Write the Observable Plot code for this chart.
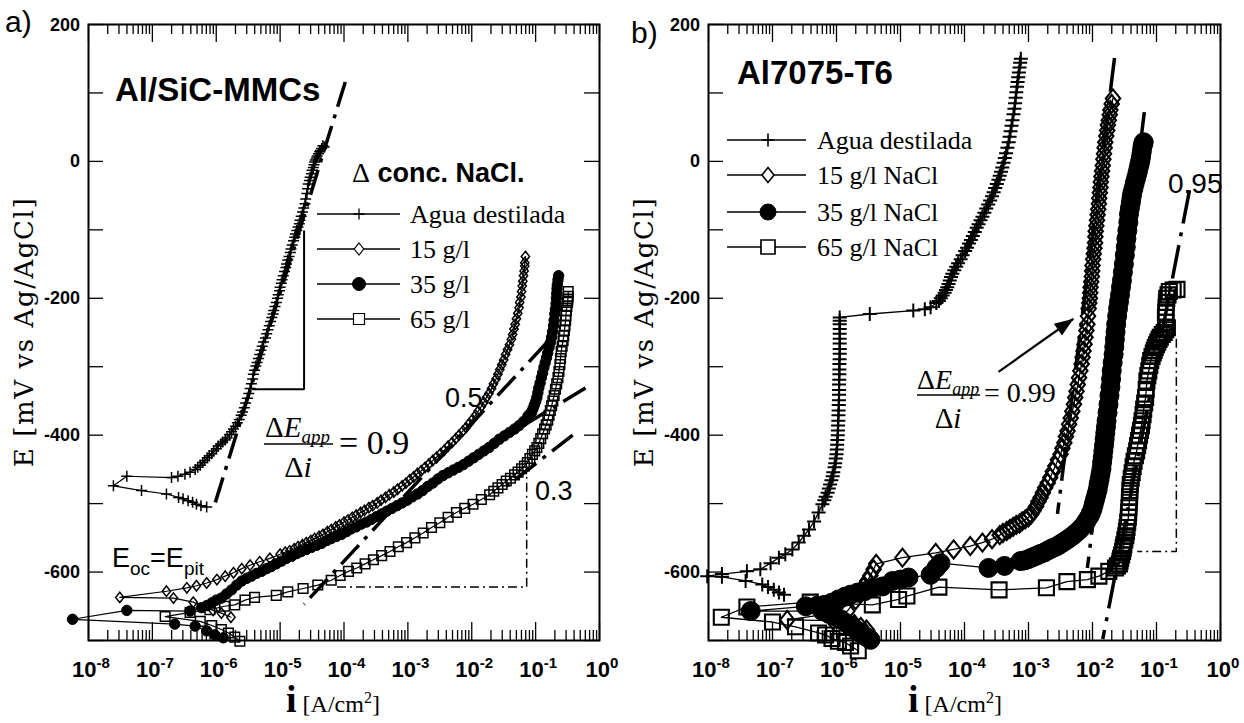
<!DOCTYPE html>
<html>
<head>
<meta charset="utf-8">
<script src="https://cdn.jsdelivr.net/npm/d3@7"></script>
<script src="https://cdn.jsdelivr.net/npm/@observablehq/plot@0.6"></script>
<style>
html,body{margin:0;padding:0;background:#fff;}
body{width:1244px;height:723px;overflow:hidden;position:relative;}
.panel{position:absolute;top:0;width:622px;height:723px;overflow:hidden;}
#pa{left:0}
#pb{left:622px}
</style>
</head>
<body>
<div id="pa" class="panel"></div>
<div id="pb" class="panel"></div>
<script>
// ---------- axis values ----------
const xExponents = [-8, -7, -6, -5, -4, -3, -2, -1, 0];
const yTicks = [200, 100, 0, -100, -200, -300, -400, -500, -600, -700];
const yLabels = [200, 0, -200, -400, -600];

// ---------- panel a) Al/SiC-MMCs : [log10 i (A/cm2), E (mV vs Ag/AgCl)] ----------
const aAgua = [[-6.15,-505],[-6.24,-503],[-6.31,-501],[-6.37,-498],[-6.44,-496],[-6.52,-493],[-6.59,-491],[-6.78,-486],[-7.17,-481],[-7.61,-474],
[-7.40,-460],[-6.70,-462],[-6.60,-460],[-6.49,-457],[-6.41,-454],[-6.33,-450],
[-6.29,-447],[-6.25,-444],[-6.21,-440],[-6.18,-437],[-6.14,-433],[-6.11,-430],[-6.07,-427],[-6.04,-423],[-6.00,-420],[-5.97,-416],[-5.93,-413],[-5.90,-410],[-5.86,-407],[-5.83,-404],[-5.79,-399],[-5.76,-395],[-5.73,-391],[-5.70,-387],[-5.67,-382],[-5.64,-377],[-5.61,-371],[-5.59,-366],[-5.56,-360],[-5.54,-353],[-5.51,-346],[-5.49,-339],[-5.47,-332],[-5.45,-325],[-5.43,-318],[-5.42,-311],[-5.40,-305],[-5.38,-299],[-5.36,-294],[-5.34,-288],[-5.32,-282],[-5.30,-276],[-5.28,-270],[-5.26,-264],[-5.23,-258],[-5.21,-252],[-5.19,-246],[-5.17,-240],[-5.15,-234],[-5.13,-228],[-5.11,-223],[-5.10,-218],[-5.08,-212],[-5.06,-206],[-5.04,-200],[-5.03,-195],[-5.01,-189],[-5.00,-184],[-4.98,-178],[-4.97,-173],[-4.95,-167],[-4.93,-161],[-4.91,-155],[-4.90,-150],[-4.88,-144],[-4.86,-139],[-4.84,-133],[-4.83,-128],[-4.81,-122],[-4.79,-116],[-4.77,-111],[-4.76,-106],[-4.74,-101],[-4.72,-96],[-4.70,-91],[-4.69,-86],[-4.67,-80],[-4.65,-74],[-4.63,-68],[-4.61,-62],[-4.60,-55],[-4.58,-47],[-4.57,-40],[-4.56,-33],[-4.54,-28],[-4.53,-23],[-4.51,-18],[-4.50,-13],[-4.48,-9],[-4.47,-5],[-4.46,-1],[-4.45,2],[-4.43,5],[-4.42,8],[-4.40,11],[-4.38,14],[-4.37,16],[-4.35,19],[-4.33,23],[-4.31,21]];
const a15 = [[-5.77,-666],[-5.92,-660],[-6.05,-656],[-6.36,-644],[-6.67,-638],[-7.51,-637],
[-6.78,-628],[-6.46,-623],[-6.31,-620],[-6.15,-616],[-5.99,-611],[-5.86,-606],[-5.73,-601],[-5.60,-595],[-5.47,-590],[-5.32,-585],[-5.16,-580],[-5.00,-574],
[-4.92,-571],[-4.85,-569],[-4.78,-566],[-4.72,-563],[-4.65,-560],[-4.59,-557],[-4.52,-554],[-4.46,-551],[-4.39,-548],[-4.33,-545],[-4.26,-541],[-4.20,-538],[-4.13,-534],[-4.07,-531],[-4.00,-527],[-3.94,-524],[-3.87,-520],[-3.81,-517],[-3.74,-513],[-3.68,-510],[-3.61,-506],[-3.55,-503],[-3.48,-499],[-3.42,-495],[-3.35,-491],[-3.29,-487],[-3.22,-483],[-3.16,-479],[-3.09,-474],[-3.03,-470],[-2.97,-465],[-2.91,-461],[-2.85,-456],[-2.79,-452],[-2.73,-447],[-2.67,-442],[-2.61,-437],[-2.55,-432],[-2.49,-427],[-2.43,-422],[-2.37,-416],[-2.31,-411],[-2.25,-405],[-2.20,-400],[-2.14,-394],[-2.09,-389],[-2.04,-383],[-1.99,-377],[-1.94,-371],[-1.90,-365],[-1.85,-358],[-1.81,-352],[-1.77,-345],[-1.73,-339],[-1.69,-332],[-1.66,-325],[-1.62,-318],[-1.59,-311],[-1.56,-304],[-1.53,-297],[-1.50,-290],[-1.47,-282],[-1.44,-275],[-1.41,-268],[-1.38,-260],[-1.36,-253],[-1.34,-245],[-1.32,-238],[-1.30,-230],[-1.28,-222],[-1.26,-214],[-1.25,-206],[-1.23,-198],[-1.22,-190],[-1.21,-182],[-1.20,-175],[-1.19,-167],[-1.18,-160],[-1.17,-153],[-1.17,-148],[-1.16,-139]];
const a35 = [[-5.89,-696],[-6.02,-692],[-6.15,-686],[-6.33,-679],[-6.65,-676],[-8.25,-669],
[-7.40,-656],[-6.41,-657],[-6.23,-652],[-6.15,-649],[-6.07,-645],[-6.00,-641],[-5.92,-638],[-5.84,-632],[-5.76,-626],[-5.68,-619],[-5.60,-613],[-5.52,-609],[-5.45,-606],[-5.37,-602],[-5.29,-599],[-5.21,-595],[-5.14,-592],[-5.06,-588],[-4.98,-584],[-4.90,-580],[-4.82,-577],[-4.74,-573],[-4.67,-570],[-4.59,-567],[-4.51,-564],[-4.43,-561],[-4.35,-558],[-4.27,-554],[-4.20,-551],[-4.12,-548],[-4.04,-545],[-3.96,-541],[-3.89,-537],[-3.81,-534],[-3.73,-530],[-3.65,-527],[-3.57,-523],[-3.49,-519],[-3.41,-515],[-3.33,-511],[-3.25,-507],[-3.17,-503],[-3.09,-499],[-3.01,-495],[-2.93,-490],[-2.85,-486],[-2.77,-481],[-2.69,-475],[-2.61,-470],[-2.53,-464],[-2.45,-459],[-2.37,-455],[-2.29,-451],[-2.21,-447],[-2.13,-443],[-2.05,-438],[-1.97,-433],[-1.89,-428],[-1.81,-423],[-1.73,-418],[-1.65,-412],[-1.57,-406],[-1.49,-401],[-1.41,-396],[-1.33,-391],[-1.26,-386],[-1.19,-380],
[-1.12,-372],[-1.09,-369],[-1.06,-366],[-1.04,-361],[-1.02,-356],[-1.00,-351],[-0.98,-345],[-0.965,-338],[-0.95,-331],[-0.93,-324],[-0.91,-316],[-0.89,-309],[-0.87,-301],[-0.85,-294],[-0.83,-287],[-0.81,-280],[-0.79,-272],[-0.77,-265],[-0.75,-257],[-0.735,-249],[-0.72,-240],[-0.71,-232],[-0.70,-223],[-0.69,-216],[-0.68,-208],[-0.675,-200],[-0.67,-193],[-0.665,-186],[-0.66,-180],[-0.65,-173],[-0.64,-167]];
const a65 = [[-5.63,-701],[-5.71,-695],[-5.81,-689],[-5.92,-684],[-6.07,-678],[-6.25,-672],[-6.80,-665],
[-6.41,-659],[-6.10,-655],[-5.87,-650],[-5.71,-648],[-5.55,-641],[-5.40,-637],[-5.06,-634],[-4.88,-629],[-4.64,-624],[-4.41,-619],[-4.20,-612],[-4.06,-605],[-3.93,-599],[-3.80,-594],[-3.67,-588],[-3.54,-582],[-3.41,-576],[-3.28,-570],[-3.15,-563],[-3.02,-557],[-2.89,-550],[-2.76,-543],[-2.63,-535],[-2.50,-528],[-2.37,-520],[-2.24,-513],[-2.11,-507],[-1.98,-501],[-1.85,-494],
[-1.72,-487],[-1.655,-482],[-1.59,-477],[-1.525,-472],[-1.46,-467],[-1.395,-463],[-1.33,-458],[-1.275,-454],[-1.22,-449],[-1.175,-445],[-1.13,-440],[-1.09,-434],[-1.05,-428],[-1.015,-423],[-0.98,-418],[-0.95,-412],[-0.92,-405],[-0.89,-398],[-0.86,-391],[-0.835,-385],[-0.81,-378],[-0.79,-371],[-0.77,-364],[-0.75,-357],[-0.73,-350],[-0.71,-342],[-0.69,-333],[-0.67,-325],[-0.65,-316],[-0.635,-307],[-0.62,-297],[-0.61,-288],[-0.60,-278],[-0.585,-270],[-0.57,-262],[-0.56,-255],[-0.55,-247],[-0.54,-240],[-0.53,-232],[-0.525,-225],[-0.52,-218],[-0.51,-212],[-0.50,-206],[-0.495,-201],[-0.49,-197],[-0.49,-190]];
// fitted / guide lines panel a
const aFit09 = [[-3.98,116],[-6.04,-506]];
const aFit05 = [[-0.828,-265],[-4.625,-647]];
const aFit35 = [[-0.22,-331],[-1.72,-416]];
const aFit03 = [[-0.42,-400],[-1.56,-482]];
const aStep = [[-4.11,-622],[-1.14,-622],[-1.14,-460]];
const aTriangle = [[-5.44,-333],[-4.625,-333],[-4.625,-101]];

// ---------- panel b) Al7075-T6 ----------
const bAgua = [[-6.82,-633],[-6.90,-630],[-6.98,-626],[-7.07,-622],[-7.16,-618],[-7.42,-613],[-7.79,-607],[-8.02,-606],
[-7.79,-603],[-7.40,-599],[-7.19,-596],[-7.03,-587],[-6.90,-579],[-6.80,-574],[-6.69,-567],[-6.59,-557],[-6.51,-547],[-6.43,-538],[-6.35,-526],[-6.28,-513],
[-6.22,-501],[-6.19,-495],[-6.17,-490],[-6.14,-484],[-6.12,-478],[-6.10,-472],[-6.08,-466],[-6.06,-460],[-6.05,-454],[-6.03,-447],[-6.02,-441],[-6.01,-434],[-6.00,-428],[-5.995,-421],[-5.99,-414],[-5.985,-407],[-5.98,-400],[-5.978,-393],[-5.975,-386],[-5.972,-379],[-5.97,-371],[-5.967,-364],[-5.965,-356],[-5.962,-349],[-5.96,-341],[-5.96,-334],[-5.96,-326],[-5.957,-319],[-5.955,-311],[-5.955,-304],[-5.955,-296],[-5.952,-289],[-5.95,-281],[-5.95,-274],[-5.95,-266],[-5.95,-259],[-5.95,-252],[-5.95,-245],[-5.95,-238],[-5.95,-233],[-5.95,-228],
[-5.48,-223],[-4.80,-218],[-4.62,-216],[-4.53,-213],
[-4.44,-207],[-4.40,-204],[-4.37,-200],[-4.34,-196],[-4.31,-192],[-4.29,-188],[-4.27,-184],[-4.25,-179],[-4.23,-174],[-4.21,-169],[-4.19,-164],[-4.16,-159],[-4.13,-154],[-4.10,-149],[-4.06,-143],[-4.03,-137],[-3.99,-131],[-3.96,-126],[-3.93,-120],[-3.90,-115],[-3.87,-109],[-3.84,-103],[-3.81,-97],[-3.78,-92],[-3.75,-86],[-3.72,-81],[-3.69,-75],[-3.66,-69],[-3.63,-63],[-3.60,-57],[-3.57,-51],[-3.545,-45],[-3.52,-39],[-3.495,-33],[-3.47,-27],[-3.45,-21],[-3.43,-15],[-3.41,-9],[-3.39,-2],[-3.37,5],[-3.35,12],[-3.33,20],[-3.31,28],[-3.295,36],[-3.28,44],[-3.265,52],[-3.25,60],[-3.235,69],[-3.22,77],[-3.21,85],[-3.20,93],[-3.19,101],[-3.18,109],[-3.17,116],[-3.16,123],[-3.15,130],[-3.14,137],[-3.13,144],[-3.12,150]];
const b15 = [[-5.53,-684],[-5.62,-680],[-5.72,-676],[-5.85,-673],[-6.05,-671],[-6.77,-670],
[-5.83,-657],[-5.70,-641],[-5.64,-631],[-5.58,-622],[-5.52,-613],[-5.47,-605],[-5.42,-596],[-5.38,-588],[-4.97,-579],[-4.45,-572],[-4.17,-567],[-3.91,-562],[-3.72,-557],[-3.57,-552],
[-3.45,-546],[-3.40,-543],[-3.34,-540],[-3.29,-537],[-3.24,-534],[-3.19,-531],[-3.14,-529],[-3.10,-526],[-3.05,-523],[-3.00,-520],[-2.96,-516],[-2.92,-510],[-2.88,-504],[-2.845,-497],[-2.81,-491],[-2.775,-484],[-2.74,-477],[-2.70,-470],[-2.66,-462],[-2.62,-453],[-2.58,-445],[-2.54,-436],[-2.50,-428],[-2.47,-419],[-2.44,-411],[-2.415,-402],[-2.39,-394],[-2.365,-384],[-2.34,-375],[-2.315,-365],[-2.29,-355],[-2.27,-345],[-2.25,-336],[-2.23,-326],[-2.21,-316],[-2.19,-306],[-2.17,-296],[-2.155,-286],[-2.14,-277],[-2.125,-267],[-2.11,-257],[-2.095,-247],[-2.08,-238],[-2.07,-226],[-2.06,-215],[-2.05,-207],[-2.04,-200],[-2.035,-192],[-2.03,-184],[-2.02,-176],[-2.01,-168],[-2.005,-160],[-2.00,-152],[-1.99,-143],[-1.98,-135],[-1.97,-127],[-1.96,-119],[-1.955,-110],[-1.95,-102],[-1.94,-94],[-1.93,-86],[-1.92,-78],[-1.91,-70],[-1.90,-62],[-1.895,-54],[-1.885,-46],[-1.875,-38],[-1.87,-30],[-1.86,-22],[-1.85,-14],[-1.84,-6],[-1.83,3],[-1.82,11],[-1.81,20],[-1.80,28],[-1.785,37],[-1.77,45],[-1.76,53],[-1.745,60],[-1.73,68],[-1.72,75],[-1.70,84],[-1.68,92]];
const b35 = [[-5.47,-699],[-5.55,-694],[-5.63,-689],[-5.70,-684],[-5.78,-679],[-5.86,-674],[-5.94,-669],[-6.02,-665],[-6.12,-661],[-6.22,-657],[-7.34,-657],
[-6.48,-650],[-6.30,-649],[-6.19,-648],[-6.08,-645],[-5.97,-640],[-5.87,-636],[-5.78,-633],[-5.67,-630],[-5.56,-628],[-5.44,-623],[-5.28,-621],[-5.125,-613],[-5.0,-611],[-4.875,-608],[-4.53,-604],[-4.44,-594],[-4.375,-587],[-3.625,-594],[-3.375,-591],
[-3.125,-584],[-3.06,-583],[-3.0,-581],[-2.95,-579],[-2.9,-577],[-2.85,-575],[-2.8,-573],[-2.745,-571],[-2.69,-568],[-2.645,-566],[-2.6,-564],[-2.55,-562],[-2.5,-559],[-2.45,-556],[-2.4,-553],[-2.355,-550],[-2.31,-547],[-2.26,-543],[-2.21,-539],[-2.17,-535],[-2.125,-530],[-2.09,-525],[-2.05,-519],[-2.025,-514],[-2.0,-508],[-1.98,-501],[-1.96,-494],[-1.94,-487],[-1.92,-480],[-1.905,-472],[-1.89,-465],[-1.875,-457],[-1.86,-449],[-1.85,-440],[-1.84,-432],[-1.83,-423],[-1.82,-415],[-1.81,-406],[-1.80,-397],[-1.79,-388],[-1.78,-379],[-1.765,-367],[-1.75,-355],[-1.735,-342],[-1.72,-330],[-1.71,-318],[-1.70,-306],[-1.685,-294],[-1.67,-282],[-1.66,-271],[-1.65,-260],[-1.64,-249],[-1.63,-238],[-1.615,-226],[-1.60,-215],[-1.585,-205],[-1.57,-195],[-1.555,-184],[-1.54,-174],[-1.525,-162],[-1.51,-150],[-1.495,-137],[-1.48,-125],[-1.47,-113],[-1.455,-101],[-1.44,-89],[-1.43,-77],[-1.415,-68],[-1.40,-60],[-1.39,-53],[-1.38,-47],[-1.36,-40],[-1.34,-32],[-1.32,-25],[-1.30,-18],[-1.285,-12],[-1.27,-6],[-1.26,-2],[-1.25,2],[-1.24,8],[-1.23,14],[-1.22,21],[-1.21,25],[-1.20,28]];
const b65 = [[-5.66,-715],[-5.78,-708],[-5.86,-703],[-5.97,-701],[-6.07,-697],[-6.17,-692],[-6.28,-689],[-6.64,-680],[-7.00,-673],[-7.80,-666],
[-7.40,-651],[-6.41,-644],[-5.44,-648],[-5.03,-640],[-4.90,-635],[-4.40,-622],[-3.46,-626],[-2.72,-623],[-2.40,-614],[-2.08,-611],[-1.90,-606],[-1.745,-599],
[-1.64,-594],[-1.61,-591],[-1.58,-588],[-1.57,-584],[-1.56,-580],[-1.545,-575],[-1.53,-570],[-1.52,-565],[-1.51,-560],[-1.495,-553],[-1.48,-547],[-1.47,-541],[-1.46,-535],[-1.45,-527],[-1.44,-520],[-1.435,-513],[-1.43,-506],[-1.425,-498],[-1.42,-490],[-1.415,-481],[-1.41,-472],[-1.395,-463],[-1.38,-455],[-1.365,-446],[-1.35,-438],[-1.33,-430],[-1.31,-423],[-1.295,-415],[-1.28,-408],[-1.265,-400],[-1.25,-393],[-1.235,-386],[-1.225,-379],[-1.21,-370],[-1.20,-362],[-1.185,-353],[-1.17,-345],[-1.16,-333],[-1.15,-321],[-1.135,-313],[-1.12,-306],[-1.105,-298],[-1.09,-291],[-1.07,-285],[-1.05,-280],[-1.035,-276],[-1.02,-272],[-1.00,-268],[-0.98,-264],[-0.96,-260],[-0.94,-257],[-0.91,-253],[-0.88,-250],[-0.855,-246],[-0.83,-243],[-0.85,-235],[-0.86,-228],[-0.855,-220],[-0.85,-213],[-0.845,-206],[-0.84,-200],[-0.82,-195],[-0.80,-190],[-0.74,-188],[-0.68,-187]];
const bFit15 = [[-1.656,151],[-2.547,-515]];
const bFit35 = [[-1.19,72],[-2.08,-594]];
const bFit65 = [[-0.484,-42],[-1.84,-698]];
const bStep = [[-0.69,-259],[-0.69,-570],[-1.30,-570]];
const bArrow = [[-3.469,-307.5],[-2.297,-229.9]];

const legendA = ["Agua destilada", "15 g/l", "35 g/l", "65 g/l"];
const legendB = ["Agua destilada", "15 g/l NaCl", "35 g/l NaCl", "65 g/l NaCl"];

// ---------- fonts ----------
const SANS = "'Liberation Sans', Arial, Helvetica, sans-serif";
const NARROW = "'Liberation Sans Narrow', 'Arial Narrow', 'Liberation Sans', sans-serif";
const SERIF = "'Liberation Serif', 'Times New Roman', serif";
const SERIFW = "'DejaVu Serif', serif";

// ---------- symbols ----------
const plusSym = {draw(c, s) {const r = Math.sqrt(s / Math.PI); c.moveTo(-r, 0); c.lineTo(r, 0); c.moveTo(0, -r); c.lineTo(0, r);}};
const diamondSym = {draw(c, s) {const r = Math.sqrt(s / Math.PI), w = r * 0.8; c.moveTo(0, -r); c.lineTo(w, 0); c.lineTo(0, r); c.lineTo(-w, 0); c.closePath();}};
const squareSym = {draw(c, s) {const r = Math.sqrt(s / Math.PI); c.rect(-r, -r, 2 * r, 2 * r);}};
const circleSym = {draw(c, s) {const r = Math.sqrt(s / Math.PI); c.moveTo(r, 0); c.arc(0, 0, r, 0, 2 * Math.PI);}};
const headSym = {draw(c, s) {const r = Math.sqrt(s / Math.PI); c.moveTo(0, 0); c.lineTo(-0.75 * r, 2 * r); c.lineTo(0.75 * r, 2 * r); c.closePath();}};

const xMajor = xExponents.map(e => 10 ** e);
const xMinor = xExponents.slice(0, -1).flatMap(e => d3.range(2, 10).map(m => m * 10 ** e));

function addText(svg, o, runs) {
  const t = d3.select(svg).append("text")
    .attr("x", o.x).attr("y", o.y)
    .attr("text-anchor", o.anchor || "start")
    .attr("font-family", o.family || SERIF)
    .attr("font-size", o.size || 20)
    .attr("font-weight", o.weight || "normal")
    .attr("font-style", o.style || "normal")
    .attr("fill", "black");
  if (o.rotate) t.attr("transform", `rotate(${o.rotate},${o.x},${o.y})`);
  if (o.spacing) t.attr("letter-spacing", o.spacing);
  for (const r of runs) {
    const run = typeof r === "string" ? {t: r} : r;
    const ts = t.append("tspan").text(run.t);
    if (run.size) ts.attr("font-size", run.size);
    if (run.style) ts.attr("font-style", run.style);
    if (run.weight) ts.attr("font-weight", run.weight);
    if (run.family) ts.attr("font-family", run.family);
    if (run.dy) ts.attr("dy", run.dy);
    if (run.dx) ts.attr("dx", run.dx);
  }
  return t;
}

function drawPanel(el, cfg) {
  const W = 622, H = 723, mt = 24, mb = 83, ml = cfg.ml, mr = cfg.mr;
  const decPx = (W - ml - mr) / 8;
  const mvPx = (H - mt - mb) / 900;
  const xf = px => 10 ** (px / decPx);
  const ym = px => px / mvPx;
  const X = d => 10 ** d[0], Y = d => d[1];
  const tk = {stroke: "black", strokeWidth: 1.3};
  const marks = [
    Plot.ruleX(xMinor, {x: d => d, y1: -700, y2: -700 + ym(10), ...tk}),
    Plot.ruleX(xMajor, {x: d => d, y1: -700, y2: -700 + ym(18), ...tk}),
    Plot.ruleX(xMinor, {x: d => d, y1: 200, y2: 200 - ym(10), ...tk}),
    Plot.ruleX(xMajor, {x: d => d, y1: 200, y2: 200 - ym(18), ...tk}),
    Plot.ruleY(yTicks, {y: d => d, x1: 1e-8, x2: 1e-8 * xf(15), ...tk}),
    Plot.ruleY(yTicks, {y: d => d, x1: 1, x2: 1 / xf(15), ...tk}),
    Plot.frame({stroke: "black", strokeWidth: 2})
  ];
  for (const g of cfg.guides) marks.push(Plot.line(g.data, {x: X, y: Y, stroke: "black", strokeWidth: g.w, strokeDasharray: g.dash, strokeLinecap: "butt", strokeLinejoin: "miter"}));
  for (const s of cfg.series) marks.push(Plot.line(s.data, {x: X, y: Y, stroke: "black", strokeWidth: s.lw}));
  for (const s of cfg.series) marks.push(Plot.dot(s.data, {x: X, y: Y, symbol: s.sym, r: s.r, stroke: "black", strokeWidth: s.sw, fill: s.fill}));
  if (cfg.arrow) {
    marks.push(Plot.link([cfg.arrow], {x1: d => 10 ** d[0][0], y1: d => d[0][1], x2: d => 10 ** d[1][0], y2: d => d[1][1], stroke: "black", strokeWidth: 2.2}));
    marks.push(Plot.dot([cfg.arrow[1]], {x: X, y: Y, symbol: headSym, r: 9.5, fill: "black", stroke: "none", rotate: cfg.arrowAngle}));
  }
  const svg = Plot.plot({
    width: W, height: H, marginLeft: ml, marginRight: mr, marginTop: mt, marginBottom: mb,
    x: {type: "log", domain: [1e-8, 1], axis: null},
    y: {domain: [-700, 200], axis: null},
    marks
  });
  el.appendChild(svg);
  const sx = svg.scale("x"), sy = svg.scale("y");
  for (const v of yLabels) {
    addText(svg, {x: ml - 8, y: sy.apply(v) + 6.5, anchor: "end", family: SANS, size: 18, weight: "bold"}, [v < 0 ? "-" + (-v) : String(v)]);
  }
  for (const e of xExponents) {
    addText(svg, {x: sx.apply(10 ** e) + 3, y: 677, anchor: "middle", family: SANS, size: 22, weight: "bold"},
      ["10", {t: e === 0 ? "0" : "-" + (-e), size: 15, dy: -9}]);
  }
  addText(svg, {x: cfg.yTitleX, y: 332, anchor: "middle", family: SERIFW, size: 26, rotate: -90, spacing: 1.6}, ["E [mV vs Ag/AgCl]"]);
  addText(svg, {x: 286, y: 712, family: SERIF, size: 38, weight: "bold"}, ["i", {t: " [A/cm", size: 24, weight: "normal"}, {t: "2", size: 16, weight: "normal", dy: -9}, {t: "]", size: 24, weight: "normal", dy: 9}]);
  const g = d3.select(svg);
  cfg.legend.labels.forEach((lab, i) => {
    const yy = cfg.legend.rows[i], s = cfg.series[i];
    g.append("line").attr("x1", cfg.legend.x1).attr("x2", cfg.legend.x2).attr("y1", yy).attr("y2", yy).attr("stroke", "black").attr("stroke-width", 1.3);
    const p = d3.path(); s.sym.draw(p, Math.PI * s.lr * s.lr);
    g.append("path").attr("d", p.toString()).attr("transform", `translate(${cfg.legend.xm},${yy})`)
      .attr("fill", s.lfill).attr("stroke", "black").attr("stroke-width", s.lsw);
    addText(svg, {x: cfg.legend.xt, y: yy + 9, family: SERIF, size: 26}, [lab]);
  });
  cfg.annotate(svg, sx, sy);
  return svg;
}

const marksA = [
  {data: aAgua, sym: plusSym, r: 5.5, lr: 5.5, fill: "none", lfill: "none", sw: 1.5, lsw: 1.3, lw: 1.2},
  {data: a15, sym: diamondSym, r: 5.2, lr: 6, fill: "none", lfill: "white", sw: 1.5, lsw: 1.2, lw: 1.2},
  {data: a35, sym: circleSym, r: 5.2, lr: 6.5, fill: "black", lfill: "black", sw: 1, lsw: 1, lw: 1.2},
  {data: a65, sym: squareSym, r: 4.8, lr: 5.5, fill: "none", lfill: "white", sw: 1.5, lsw: 1.2, lw: 1.2}
];
const marksB = [
  {data: bAgua, sym: plusSym, r: 7, lr: 6.5, fill: "none", lfill: "none", sw: 2, lsw: 1.6, lw: 1.3},
  {data: b15, sym: diamondSym, r: 9, lr: 7.5, fill: "none", lfill: "white", sw: 2.1, lsw: 1.6, lw: 1.3},
  {data: b35, sym: circleSym, r: 9.5, lr: 8, fill: "black", lfill: "black", sw: 1, lsw: 1, lw: 1.3},
  {data: b65, sym: squareSym, r: 7.5, lr: 7, fill: "none", lfill: "white", sw: 2.1, lsw: 1.7, lw: 1.3}
];

drawPanel(document.getElementById("pa"), {
  ml: 88, mr: 23, yTitleX: 33,
  series: marksA,
  guides: [
    {data: aFit09, w: 3.5, dash: "26,8,4,8"},
    {data: aFit05, w: 3.5, dash: "26,8,4,8"},
    {data: aFit35, w: 3.5, dash: "26,8,4,8"},
    {data: aFit03, w: 3.5, dash: "26,8,4,8"},
    {data: aStep, w: 1.5, dash: "9,4,2,4"},
    {data: aTriangle, w: 2, dash: null}
  ],
  legend: {labels: legendA, rows: [214, 249, 284, 319], x1: 317, x2: 400, xm: 359, xt: 410},
  annotate(svg) {
    addText(svg, {x: 5, y: 32, family: NARROW, size: 30}, ["a)"]);
    addText(svg, {x: 115, y: 101, family: SANS, size: 33, weight: "bold"}, ["Al/SiC-MMCs"]);
    addText(svg, {x: 352, y: 182, family: SERIF, size: 28}, ["\u0394", {t: " conc. NaCl.", family: SANS, weight: "bold", size: 27}]);
    addText(svg, {x: 445, y: 407, family: NARROW, size: 27}, ["0.5"]);
    addText(svg, {x: 535, y: 500, family: NARROW, size: 27}, ["0.3"]);
    addText(svg, {x: 112, y: 567, family: NARROW, size: 27}, ["E", {t: "oc", size: 19, dy: 8}, {t: "=E", dy: -8}, {t: "pit", size: 19, dy: 8}]);
    addText(svg, {x: 265, y: 437, family: SERIF, size: 29}, ["\u0394", {t: "E", style: "italic"}, {t: "app", style: "italic", size: 19, dy: 6}]);
    d3.select(svg).append("line").attr("x1", 264).attr("x2", 333).attr("y1", 444).attr("y2", 444).attr("stroke", "black").attr("stroke-width", 1.5);
    addText(svg, {x: 298, y: 477, anchor: "middle", family: SERIF, size: 30}, ["\u0394", {t: "i", style: "italic"}]);
    addText(svg, {x: 339, y: 454, family: SERIF, size: 34}, ["= 0.9"]);
  }
});

drawPanel(document.getElementById("pb"), {
  ml: 86, mr: 24, yTitleX: 31,
  series: marksB,
  guides: [
    {data: bFit15, w: 3.5, dash: "34,9,4,9"},
    {data: bFit35, w: 3.5, dash: "34,9,4,9"},
    {data: bFit65, w: 3.5, dash: "34,9,4,9"},
    {data: bStep, w: 1.5, dash: "9,4,2,4"}
  ],
  arrow: bArrow, arrowAngle: 55,
  legend: {labels: legendB, rows: [140, 175, 212, 247], x1: 105, x2: 184, xm: 146, xt: 195},
  annotate(svg) {
    addText(svg, {x: 9, y: 43, family: NARROW, size: 30}, ["b)"]);
    addText(svg, {x: 115, y: 84, family: SANS, size: 33, weight: "bold"}, ["Al7075-T6"]);
    addText(svg, {x: 546, y: 193, family: NARROW, size: 28}, ["0.95"]);
    addText(svg, {x: 295, y: 389, family: SERIF, size: 28}, ["\u0394", {t: "E", style: "italic"}, {t: "app", style: "italic", size: 18, dy: 6}]);
    d3.select(svg).append("line").attr("x1", 295).attr("x2", 358).attr("y1", 395).attr("y2", 395).attr("stroke", "black").attr("stroke-width", 1.5);
    addText(svg, {x: 326, y: 428, anchor: "middle", family: SERIF, size: 29}, ["\u0394", {t: "i", style: "italic"}]);
    addText(svg, {x: 362, y: 402, family: SERIF, size: 28}, ["= 0.99"]);
  }
});
</script>
</body>
</html>
